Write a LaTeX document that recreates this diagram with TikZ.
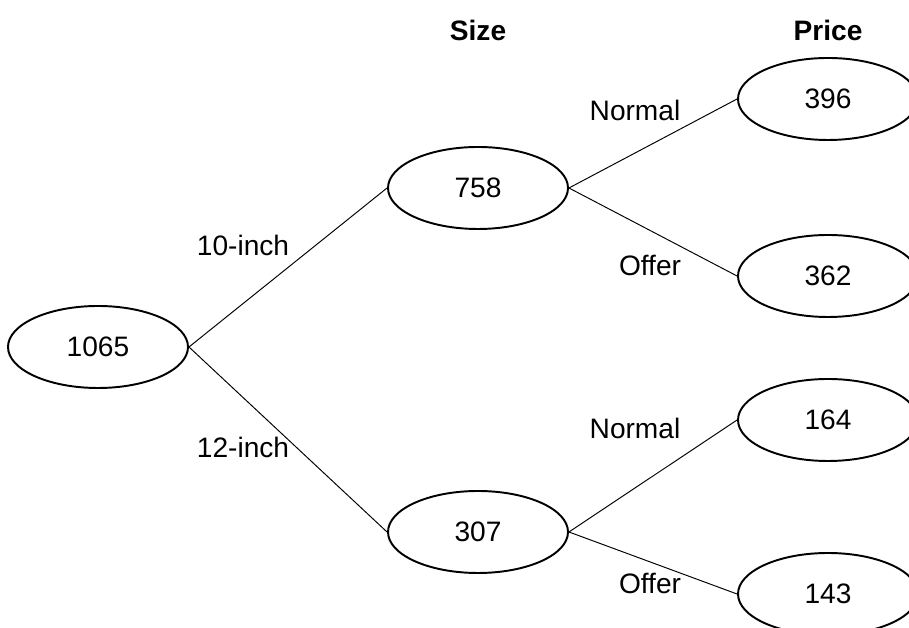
\documentclass[tikz,border=0pt]{standalone}
\usepackage{fontspec}
\setmainfont{Liberation Sans}
\usetikzlibrary{shapes.geometric}

\tikzset{
  count/.style={draw, ellipse, line width=1.1pt, minimum width=3.6cm, minimum height=1.64cm, inner sep=0pt},
  branch/.style={line width=0.55pt}
}

\begin{document}
\begin{tikzpicture}[font=\fontsize{16}{19}\selectfont]
\clip (0,0) rectangle (18.18,12.56);
\useasboundingbox (0,0) rectangle (18.18,12.56);

\node[count] (all) at (1.96,5.62) {1065};
\node[count] (ten) at (9.56,8.8) {758};
\node[count] (twelve) at (9.56,1.92) {307};

\node[count] (tennormal) at (16.56,10.58) {396};
\node[count] (tenoffer) at (16.56,7.04) {362};
\node[count] (twelvenormal) at (16.56,4.16) {164};
\node[count] (twelveoffer) at (16.56,0.68) {143};

\draw[branch] (all.east) -- (ten.west);
\draw[branch] (all.east) -- (twelve.west);
\draw[branch] (ten.east) -- (tennormal.west);
\draw[branch] (ten.east) -- (tenoffer.west);
\draw[branch] (twelve.east) -- (twelvenormal.west);
\draw[branch] (twelve.east) -- (twelveoffer.west);

\node (size) at (9.56,11.96) {\textbf{Size}};
\node (price) at (16.56,11.96) {\textbf{Price}};

\node (tenlabel) at (4.86,7.66) {10-inch};
\node (twelvelabel) at (4.86,3.62) {12-inch};
\node (normalA) at (12.7,10.36) {Normal};
\node (offerA) at (13.0,7.26) {Offer};
\node (normalB) at (12.7,4.0) {Normal};
\node (offerB) at (13.0,0.9) {Offer};
\end{tikzpicture}
\end{document}
